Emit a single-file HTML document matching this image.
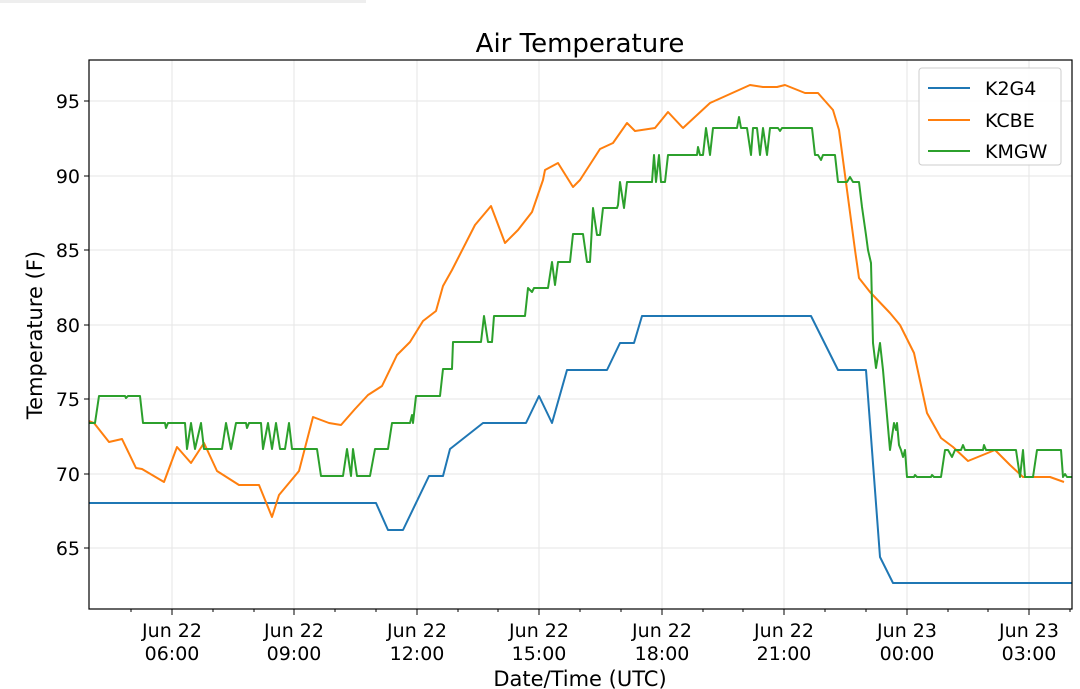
<!DOCTYPE html>
<html><head><meta charset="utf-8"><style>
html,body{margin:0;padding:0;background:#fff;}
svg{display:block;font-family:"DejaVu Sans","Liberation Sans",sans-serif;}
</style></head><body>
<svg width="1080" height="689" viewBox="0 0 1080 689" xmlns="http://www.w3.org/2000/svg">
<rect width="1080" height="689" fill="#fff"/>
<rect x="0" y="0" width="366" height="3" fill="#eee"/>
<g stroke="#e6e6e6" stroke-width="1">
<line x1="172" y1="60" x2="172" y2="609"/><line x1="294" y1="60" x2="294" y2="609"/>
<line x1="417" y1="60" x2="417" y2="609"/><line x1="539" y1="60" x2="539" y2="609"/>
<line x1="662" y1="60" x2="662" y2="609"/><line x1="784" y1="60" x2="784" y2="609"/>
<line x1="907" y1="60" x2="907" y2="609"/><line x1="1029" y1="60" x2="1029" y2="609"/>
<line x1="89" y1="101" x2="1072" y2="101"/><line x1="89" y1="176" x2="1072" y2="176"/>
<line x1="89" y1="250" x2="1072" y2="250"/><line x1="89" y1="325" x2="1072" y2="325"/>
<line x1="89" y1="399" x2="1072" y2="399"/><line x1="89" y1="474" x2="1072" y2="474"/>
<line x1="89" y1="548" x2="1072" y2="548"/>
</g>
<g fill="none" stroke-width="2" stroke-linejoin="round">
<polyline stroke="#1f77b4" points="89,503 376,503 388,530 403,530 429,476 443,476 450,449 483,423 526,423 539,396 552,423 567,370 607,370 620,343 634,343 642,316 811,316 838,370 866,370 880,557 893,583 1072,583"/>
<polyline stroke="#ff7f0e" points="89,421 94,423 109,442 122,439 136,468 142,469 164,482 177,447 191,463 204,443 217,471 239,485 259,485 272,517 279,495 299,471 313,417 329,423 341,425 355,409 368,395 382,386 397,355 410,342 423,321 436,311 443,286 452,270 475,225 491,206 505,243 518,230 532,212 543,180 545,170 558,163 573,187 580,180 600,149 613,143 627,123 635,131 655,128 668,112 683,128 710,103 750,85 763,87 777,87 785,85 805,93 818,93 833,110 839,130 855,250 859,278 870,292 890,313 900,325 914,353 927,413 941,438 953,447 968,461 995,450 1010,465 1023,477 1050,477 1064,482"/>
<polyline stroke="#2ca02c" points="89,423 95,423 99,396 125,396 126,398 128,396 140,396 143,423 165,423 166,428 168,423 185,423 187,449 191,423 195,449 201,423 204,449 222,449 226,423 231,449 236,423 246,423 247,428 249,423 261,423 263,449 268,423 272,449 276,423 280,449 285,449 289,423 292,449 317,449 321,476 343,476 347,449 351,476 353,449 357,476 370,476 375,449 388,449 392,423 410,423 412,415 413,423 416,396 440,396 443,369 452,369 453,342 481,342 484,316 488,342 492,342 494,316 525,316 528,288 532,292 534,288 548,288 552,262 555,285 558,262 570,262 573,234 583,234 587,262 590,262 593,208 597,235 600,235 603,208 617,208 618,205 620,182 624,208 627,182 652,182 654,155 656,182 659,155 661,182 665,182 668,155 697,155 698,147 700,155 703,155 706,128 710,155 713,128 737,128 739,117 741,128 747,128 751,155 753,128 757,128 760,155 763,128 767,155 770,128 778,128 780,131 782,128 812,128 815,155 818,155 821,160 823,155 835,155 838,182 847,182 850,177 853,182 859,182 862,207 866,235 868,250 871,263 873,343 876,368 880,343 883,370 890,450 894,423 896,430 897,423 899,445 901,450 903,457 905,450 907,477 914,477 915,475 917,477 931,477 932,475 934,477 941,477 945,450 948,450 952,457 955,450 961,450 963,445 965,450 983,450 984,445 986,450 1016,450 1020,477 1023,450 1025,477 1033,477 1037,450 1061,450 1063,477 1065,474 1067,477 1072,477"/>
</g>
<rect x="89" y="60" width="983" height="549" fill="none" stroke="#000" stroke-width="1.2"/>
<g stroke="#000" stroke-width="1">
<line x1="84" y1="101" x2="89" y2="101"/><line x1="84" y1="176" x2="89" y2="176"/>
<line x1="84" y1="250" x2="89" y2="250"/><line x1="84" y1="325" x2="89" y2="325"/>
<line x1="84" y1="399" x2="89" y2="399"/><line x1="84" y1="474" x2="89" y2="474"/>
<line x1="84" y1="548" x2="89" y2="548"/>
<line x1="172" y1="609" x2="172" y2="615"/><line x1="294" y1="609" x2="294" y2="615"/>
<line x1="417" y1="609" x2="417" y2="615"/><line x1="539" y1="609" x2="539" y2="615"/>
<line x1="662" y1="609" x2="662" y2="615"/><line x1="784" y1="609" x2="784" y2="615"/>
<line x1="907" y1="609" x2="907" y2="615"/><line x1="1029" y1="609" x2="1029" y2="615"/>
<line x1="131" y1="609" x2="131" y2="612"/><line x1="213" y1="609" x2="213" y2="612"/><line x1="254" y1="609" x2="254" y2="612"/>
<line x1="335" y1="609" x2="335" y2="612"/><line x1="376" y1="609" x2="376" y2="612"/><line x1="458" y1="609" x2="458" y2="612"/>
<line x1="498" y1="609" x2="498" y2="612"/><line x1="580" y1="609" x2="580" y2="612"/><line x1="621" y1="609" x2="621" y2="612"/>
<line x1="703" y1="609" x2="703" y2="612"/><line x1="743" y1="609" x2="743" y2="612"/><line x1="825" y1="609" x2="825" y2="612"/>
<line x1="866" y1="609" x2="866" y2="612"/><line x1="948" y1="609" x2="948" y2="612"/><line x1="988" y1="609" x2="988" y2="612"/>
<line x1="1070" y1="609" x2="1070" y2="612"/>
</g>
<g font-size="19" fill="#000" text-anchor="end">
<text x="80" y="108">95</text><text x="80" y="183">90</text><text x="80" y="257">85</text>
<text x="80" y="332">80</text><text x="80" y="406">75</text><text x="80" y="481">70</text><text x="80" y="555">65</text>
</g>
<g font-size="19" fill="#000" text-anchor="middle">
<text x="172" y="637">Jun 22</text><text x="172" y="660">06:00</text>
<text x="294" y="637">Jun 22</text><text x="294" y="660">09:00</text>
<text x="417" y="637">Jun 22</text><text x="417" y="660">12:00</text>
<text x="539" y="637">Jun 22</text><text x="539" y="660">15:00</text>
<text x="662" y="637">Jun 22</text><text x="662" y="660">18:00</text>
<text x="784" y="637">Jun 22</text><text x="784" y="660">21:00</text>
<text x="907" y="637">Jun 23</text><text x="907" y="660">00:00</text>
<text x="1029" y="637">Jun 23</text><text x="1029" y="660">03:00</text>
</g>
<text x="580" y="686" font-size="21" text-anchor="middle">Date/Time (UTC)</text>
<text x="580" y="52" font-size="26" text-anchor="middle">Air Temperature</text>
<text transform="translate(42,335) rotate(-90)" font-size="21" text-anchor="middle">Temperature (F)</text>
<rect x="919" y="68" width="142" height="97" rx="3" fill="#fff" fill-opacity="0.85" stroke="#ccc"/>
<g stroke-width="2">
<line x1="928" y1="88" x2="970" y2="88" stroke="#1f77b4"/>
<line x1="928" y1="120" x2="970" y2="120" stroke="#ff7f0e"/>
<line x1="928" y1="151" x2="970" y2="151" stroke="#2ca02c"/>
</g>
<g font-size="19" fill="#000">
<text x="985" y="95">K2G4</text><text x="985" y="127">KCBE</text><text x="985" y="158">KMGW</text>
</g>
</svg>
</body></html>
